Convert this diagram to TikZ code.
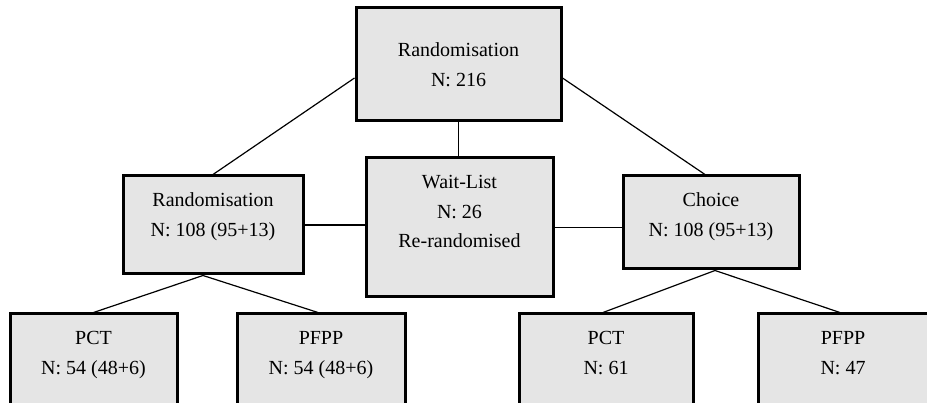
\documentclass[tikz,border=0pt]{standalone}
\usepackage{fontspec}
\setmainfont{Liberation Serif}
\usepackage{xcolor}
\definecolor{boxfill}{gray}{0.9}
\newcommand{\toptext}[3]{\parbox[c][#2][t]{#1}{\centering\rule{0pt}{31pt}#3}}

\begin{document}
\begin{tikzpicture}[x=1pt,y=-1pt,font=\fontsize{20}{29.5}\selectfont,
  box/.style={draw,line width=3pt,fill=boxfill,inner sep=0pt},
  link/.style={line width=1.2pt}]
\clip (0,0) rectangle (927,403);
\node[box,align=center,minimum width=205pt,minimum height=113pt] (rand) at (458.5,64.5) {Randomisation\\N: 216};
\node[box] (rand2) at (213,225) {\toptext{180pt}{98pt}{Randomisation\\N: 108 (95+13)}};
\node[box] (wait) at (459.5,227.5) {\toptext{187pt}{139pt}{Wait-List\\N: 26\\Re-randomised}};
\node[box] (choice) at (711,222.5) {\toptext{176pt}{93pt}{Choice\\N: 108 (95+13)}};
\node[box] (pct1) at (93.5,374) {\toptext{167pt}{120pt}{PCT\\N: 54 (48+6)}};
\node[box] (pfpp1) at (321,374) {\toptext{168pt}{120pt}{PFPP\\N: 54 (48+6)}};
\node[box] (pct2) at (606,374) {\toptext{174pt}{120pt}{PCT\\N: 61}};
\node[box] (pfpp2) at (843,374) {\toptext{170pt}{120pt}{PFPP\\N: 47}};
\draw[link] ([yshift=-13.5pt]rand.west) -- (rand2.north);
\draw[link] ([yshift=-13.5pt]rand.east) -- ([xshift=-6pt]choice.north);
\draw[link] (rand.south) -- (rand.south |- wait.north);
\draw[link] (rand2.east) -- (rand2.east -| wait.west);
\draw[link] (wait.east) -- (wait.east -| choice.west);
\draw[link] ([xshift=-10pt]rand2.south) -- (pct1.north);
\draw[link] ([xshift=-10pt]rand2.south) -- ([xshift=-3pt]pfpp1.north);
\draw[link] ([xshift=4pt]choice.south) -- ([xshift=-3pt]pct2.north);
\draw[link] ([xshift=4pt]choice.south) -- ([xshift=-3pt]pfpp2.north);
\end{tikzpicture}
\end{document}
